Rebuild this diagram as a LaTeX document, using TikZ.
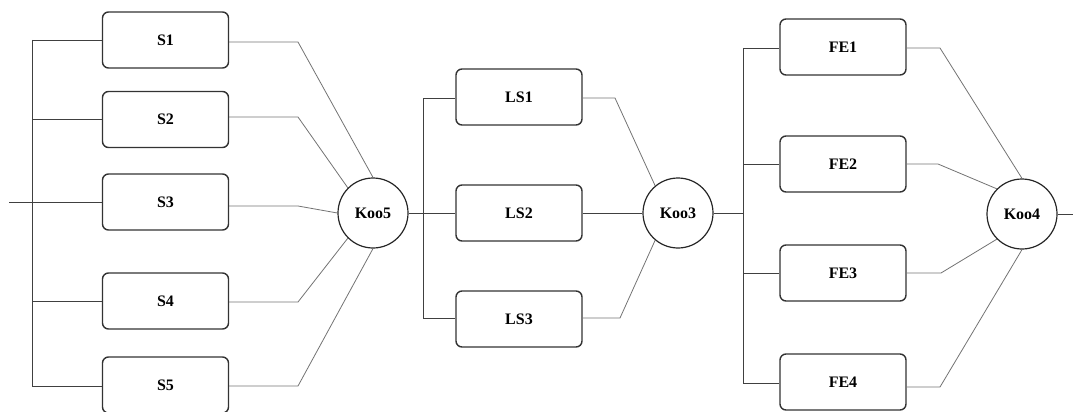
\documentclass[tikz,border=0pt]{standalone}
\usepackage{fontspec}
\setmainfont{Liberation Serif}
\begin{document}
\begin{tikzpicture}[x=1pt,y=-1pt,
  unit/.style={draw=black!80,line width=1.4pt,rounded corners=6pt,
    minimum width=126pt,minimum height=56pt,inner sep=0pt,
    font=\fontsize{16}{19}\selectfont\bfseries},
  vote/.style={circle,draw=black!85,line width=1.2pt,minimum size=70pt,inner sep=0pt,
    font=\fontsize{16}{19}\selectfont\bfseries},
  wire/.style={draw=black!75,line width=0.8pt},
  link/.style={draw=black!55,line width=0.8pt}]
\useasboundingbox (0,0) rectangle (1073,412);

% sensor stage
\node[unit] (S1) at (165.5,40) {S1};
\node[unit] (S2) at (165.5,119.5) {S2};
\node[unit] (S3) at (165.5,202) {S3};
\node[unit] (S4) at (165.5,301) {S4};
\node[unit] (S5) at (165.5,385) {S5};
\node[vote] (K5) at (373,213) {Koo5};

% logic solver stage
\node[unit] (LS1) at (519,97) {LS1};
\node[unit] (LS2) at (519,213) {LS2};
\node[unit] (LS3) at (519,319) {LS3};
\node[vote] (K3) at (678,213) {Koo3};

% final element stage
\node[unit] (FE1) at (843,47) {FE1};
\node[unit] (FE2) at (843,164) {FE2};
\node[unit] (FE3) at (843,273) {FE3};
\node[unit] (FE4) at (843,382) {FE4};
\node[vote] (K4) at (1022,214) {Koo4};

% bus and bend points
\coordinate (in) at (9,202);
\coordinate (sb1) at (32,40);
\coordinate (sb5) at (32,386);
\coordinate (sr1) at (298,42);
\coordinate (sr2) at (298,117);
\coordinate (sr3) at (298,206);
\coordinate (sr4) at (298,302);
\coordinate (sr5) at (298,386);
\coordinate (lb1) at (423,98);
\coordinate (lb2) at (423,213);
\coordinate (lb3) at (423,318);
\coordinate (lr1) at (615,98);
\coordinate (lr3) at (620,318);
\coordinate (fb1) at (743,48);
\coordinate (fb2) at (743,164);
\coordinate (fb3) at (743,273);
\coordinate (fb4) at (743,383);
\coordinate (fbm) at (743,213);
\coordinate (fr1) at (940,48);
\coordinate (fr2) at (938,164);
\coordinate (fr3) at (941,273);
\coordinate (fr4) at (940,387);
\coordinate (out) at (1073,214);

% sensor wiring
\draw[wire] (in) -- (S3.west);
\draw[wire] (sb1) -- (sb5);
\draw[wire] (sb1) -- (S1.west);
\draw[wire] (sb1 |- S2.west) -- (S2.west);
\draw[wire] (sb1 |- S4.west) -- (S4.west);
\draw[wire] (sb5) -- (S5.west |- sb5);
\draw[link] (S1.east |- sr1) -- (sr1) -- (K5.north);
\draw[link] (S2.east |- sr2) -- (sr2) -- (K5.135);
\draw[link] (S3.east |- sr3) -- (sr3) -- (K5.west);
\draw[link] (S4.east |- sr4) -- (sr4) -- (K5.225);
\draw[link] (S5.east |- sr5) -- (sr5) -- (K5.south);

% logic solver wiring
\draw[wire] (K5) -- (lb2);
\draw[wire] (lb1) -- (lb3);
\draw[wire] (lb1) -- (LS1.west |- lb1);
\draw[wire] (lb2) -- (LS2.west);
\draw[wire] (lb3) -- (LS3.west |- lb3);
\draw[link] (LS1.east |- lr1) -- (lr1) -- (K3.130);
\draw[wire] (LS2.east) -- (K3);
\draw[link] (LS3.east |- lr3) -- (lr3) -- (K3.230);

% final element wiring
\draw[wire] (K3) -- (fbm);
\draw[wire] (fb1) -- (fb4);
\draw[wire] (fb1) -- (FE1.west |- fb1);
\draw[wire] (fb2) -- (FE2.west |- fb2);
\draw[wire] (fb3) -- (FE3.west |- fb3);
\draw[wire] (fb4) -- (FE4.west |- fb4);
\draw[link] (FE1.east |- fr1) -- (fr1) -- (K4.north);
\draw[link] (FE2.east |- fr2) -- (fr2) -- (K4.135);
\draw[link] (FE3.east |- fr3) -- (fr3) -- (K4.225);
\draw[link] (FE4.east |- fr4) -- (fr4) -- (K4.south);
\draw[wire] (K4) -- (out);
\end{tikzpicture}
\end{document}
